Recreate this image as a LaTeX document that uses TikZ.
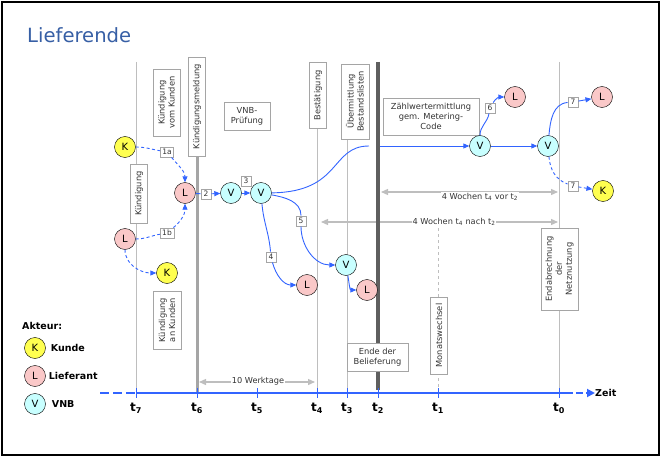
\documentclass[tikz,border=0pt]{standalone}
\usepackage{fontspec}
\setmainfont{DejaVu Sans}
\usepackage{xcolor}
\usepackage{tikz}
\usetikzlibrary{positioning, arrows.meta}
\definecolor{kyellow}{RGB}{255,255,80}
\definecolor{lpink}{RGB}{250,200,200}
\definecolor{vcyan}{RGB}{200,255,255}
\definecolor{flowblue}{RGB}{50,100,255}
\definecolor{titleblue}{RGB}{55,95,165}
\definecolor{linegray}{RGB}{190,190,190}
\definecolor{boxgray}{RGB}{165,165,165}
\definecolor{darkline}{RGB}{95,95,95}

\begin{document}
\begin{tikzpicture}[x=1pt,y=-1pt,>={Triangle[length=6pt,width=5pt]}]
	\tikzstyle{actor}=[circle,draw=black,minimum size=21pt,inner sep=0pt,font=\fontsize{10}{10}\selectfont]
	\tikzstyle{kunde}=[actor,fill=kyellow]
	\tikzstyle{lief}=[actor,fill=lpink]
	\tikzstyle{vnb}=[actor,fill=vcyan]
	\tikzstyle{phase}=[draw=boxgray,fill=white,inner sep=1pt,align=center,text=black!80,font=\fontsize{8.3}{10}\selectfont]
	\tikzstyle{numbox}=[draw=boxgray,fill=white,inner xsep=2pt,inner ysep=1pt,minimum size=10.5pt,text=black!80,font=\fontsize{7.5}{7.5}\selectfont]
	\tikzstyle{flow}=[draw=flowblue,line width=0.9pt]
	\tikzstyle{weak}=[flow,dash pattern=on 3pt off 2.5pt]
	\tikzstyle{thinline}=[draw=linegray,line width=1pt]
	\tikzstyle{dimline}=[draw=linegray,line width=1.3pt,<->,>={Triangle[length=7pt,width=6pt]}]
	\tikzstyle{dimtext}=[fill=white,inner sep=1pt,text=black!80,font=\fontsize{8.2}{8.2}\selectfont]
	\tikzstyle{tlabel}=[inner sep=0pt,font=\fontsize{12}{12}\selectfont\bfseries]
	\tikzstyle{legtext}=[inner sep=0pt,font=\fontsize{9.5}{10}\selectfont\bfseries]
	\useasboundingbox (0,0) rectangle (665,460);
	\draw[line width=1.8pt] (2,2) rectangle (659,455);
	\node[anchor=base west,inner sep=0pt,text=titleblue,font=\fontsize{19.6}{20}\selectfont](title) at (27,43) {Lieferende};

	\coordinate (t7) at (136,393);
	\coordinate (t6) at (197,393);
	\coordinate (t5) at (257,393);
	\coordinate (t4) at (317,393);
	\coordinate (t3) at (347,393);
	\coordinate (t2) at (378,393);
	\coordinate (t1) at (438,393);
	\coordinate (t0) at (559,393);
	\coordinate (t7top) at (136,62);
	\coordinate (t6top) at (197,60);
	\coordinate (t4top) at (317,62);
	\coordinate (t3top) at (347,66);
	\coordinate (t2top) at (378,62);
	\coordinate (t1top) at (438,228);
	\coordinate (t0top) at (559,62);

	\coordinate (d10a) at (199,382);
	\coordinate (d10b) at (315,382);
	\coordinate (dvora) at (381,192);
	\coordinate (dvorb) at (558,192);
	\coordinate (dnacha) at (321,222);
	\coordinate (dnachb) at (558,222);
	\draw[dimline] (d10a) -- (d10b);
	\draw[dimline] (dvora) -- (dvorb);
	\draw[dimline] (dnacha) -- (dnachb);
	\node[dimtext](werk) at (258,381) {10 Werktage};
	\node[dimtext](wvor) at (480,197) {4 Wochen t\textsubscript{4} vor t\textsubscript{2}};
	\node[dimtext](wnach) at (454,222) {4 Wochen t\textsubscript{4} nach t\textsubscript{2}};

	\draw[thinline] (t7top) -- (t7);
	\draw[draw=boxgray,line width=3pt] (t6top) -- (t6);
	\draw[thinline] (t4top) -- (t4);
	\draw[thinline] (t3top) -- (t3);
	\draw[draw=darkline,line width=4pt] (t2top) -- ([yshift=3pt]t2);
	\draw[thinline,dashed] (t1top) -- (t1);
	\draw[thinline] (t0top) -- (t0);

	\coordinate (tlstart) at (100,393);
	\coordinate (tlend) at (595,393);
	\coordinate (tlmid) at (566,393);
	\draw[flow,line width=1.8pt,dash pattern=on 9pt off 4pt] (tlstart) -- (t7);
	\draw[flow,line width=1.8pt] (t7) -- (tlmid);
	\draw[flow,line width=1.8pt,dash pattern=on 7pt off 3pt,->,>={Triangle[length=8pt,width=8pt]}] (tlmid) -- (tlend);
	\node[legtext,anchor=west](zeit) at (tlend) {Zeit};
	\draw[flow,line width=1pt] ([yshift=5pt]t7) -- ([yshift=-5pt]t7);
	\draw[flow,line width=1pt] ([yshift=5pt]t6) -- ([yshift=-5pt]t6);
	\draw[flow,line width=1pt] ([yshift=5pt]t5) -- ([yshift=-5pt]t5);
	\draw[flow,line width=1pt] ([yshift=5pt]t4) -- ([yshift=-5pt]t4);
	\draw[flow,line width=1pt] ([yshift=5pt]t3) -- ([yshift=-5pt]t3);
	\draw[flow,line width=1pt] ([yshift=5pt]t2) -- ([yshift=-5pt]t2);
	\draw[flow,line width=1pt] ([yshift=5pt]t1) -- ([yshift=-5pt]t1);
	\draw[flow,line width=1pt] ([yshift=5pt]t0) -- ([yshift=-5pt]t0);
	\node[tlabel,below=10pt of t7](lt7) {t\textsubscript{7}};
	\node[tlabel,below=10pt of t6](lt6) {t\textsubscript{6}};
	\node[tlabel,below=10pt of t5](lt5) {t\textsubscript{5}};
	\node[tlabel,below=10pt of t4](lt4) {t\textsubscript{4}};
	\node[tlabel,below=10pt of t3](lt3) {t\textsubscript{3}};
	\node[tlabel,below=10pt of t2](lt2) {t\textsubscript{2}};
	\node[tlabel,below=10pt of t1](lt1) {t\textsubscript{1}};
	\node[tlabel,below=10pt of t0](lt0) {t\textsubscript{0}};

	\node[phase,rotate=90,minimum width=67pt,minimum height=27pt](kvk) at (166.5,102.5) {Kündigung\\vom Kunden};
	\node[phase,rotate=90,minimum width=99pt,minimum height=17pt](kmeld) at (197,106.5) {Kündigungsmeldung};
	\node[phase,minimum width=46pt,minimum height=28pt](vnbp) at (247,116) {VNB-\\Prüfung};
	\node[phase,rotate=90,minimum width=66pt,minimum height=17pt](best) at (318,95.5) {Bestätigung};
	\node[phase,rotate=90,minimum width=75pt,minimum height=28pt](uebm) at (355,101.5) {Übermittlung\\Bestandslisten};
	\node[phase,minimum width=96pt,minimum height=37pt](zwe) at (431,116.5) {Zählwertermittlung\\gem. Metering-\\Code};
	\node[phase,rotate=90,minimum width=59pt,minimum height=17pt](kuend) at (139,193.5) {Kündigung};
	\node[phase,rotate=90,minimum width=58pt,minimum height=28pt](kak) at (167,320) {Kündigung\\an Kunden};
	\node[phase,minimum width=61pt,minimum height=28pt](ende) at (377.5,357) {Ende der\\Belieferung};
	\node[phase,rotate=90,minimum width=77pt,minimum height=17pt](monat) at (439,335.5) {Monatswechsel};
	\node[phase,rotate=90,minimum width=82pt,minimum height=37pt](endab) at (559.5,269) {Endabrechnung\\der\\Netznutzung};

	\node[kunde](k1) at (125,147) {K};
	\node[lief](l1) at (125,239) {L};
	\node[lief](l2) at (185,193) {L};
	\node[kunde](k2) at (167,273) {K};
	\node[vnb](v1) at (231,193) {V};
	\node[vnb](v2) at (261,193) {V};
	\node[lief](l3) at (307,285) {L};
	\node[vnb](v3) at (346,265) {V};
	\node[lief](l4) at (367,290) {L};
	\node[vnb](v4) at (480,146) {V};
	\node[lief](l5) at (515,97) {L};
	\node[vnb](v5) at (548,146) {V};
	\node[lief](l6) at (602,97) {L};
	\node[kunde](k3) at (603,191) {K};

	\node[numbox](n1a) at (167,152) {1a};
	\node[numbox](n1b) at (167,233) {1b};
	\node[numbox](n2) at (206,194) {2};
	\node[numbox](n3) at (246,181) {3};
	\node[numbox](n4) at (271,257) {4};
	\node[numbox](n5) at (301,221) {5};
	\node[numbox](n6) at (490,108) {6};
	\node[numbox](n7a) at (573,102) {7};
	\node[numbox](n7b) at (573,186) {7};
	\coordinate (xfer) at (369,146);
	\coordinate (xfer2) at (380,146);

	\draw[weak] (k1) to[out=0,in=170] (n1a);
	\draw[weak,->] (n1a) to[out=-50,in=90] (l2);
	\draw[weak] (l1) to[out=0,in=190] (n1b);
	\draw[weak,->] (n1b) to[out=40,in=-90] (l2);
	\draw[weak,->] (l1) to[out=-90,in=180] (k2);
	\draw[flow] (l2) -- (n2);
	\draw[flow,->] (n2) -- (v1);
	\draw[flow,->] (v1) -- (v2);
	\draw[flow] (v2) to[out=-85,in=95] (n4);
	\draw[flow,->] (n4) to[out=-75,in=180] (l3);
	\draw[flow] (v2) to[out=-10,in=90] (n5);
	\draw[flow,->] (n5) to[out=-90,in=180] (v3);
	\draw[flow,->] (v3) to[out=-80,in=180] (l4);
	\draw[flow] (v2) .. controls (342,192) and (330,146) .. (xfer);
	\draw[flow,->] (xfer2) -- (v4);
	\draw[flow,->] (v4) -- (v5);
	\draw[flow] (v4) to[out=90,in=-100] (n6);
	\draw[flow,->] (n6) to[out=60,in=180] (l5);
	\draw[flow] (v5) to[out=85,in=185] (n7a);
	\draw[flow,->] (n7a) -- (l6);
	\draw[weak] (v5) to[out=-85,in=160] (n7b);
	\draw[weak,->] (n7b) -- (k3);

	\node[legtext,anchor=west](akteur) at (22,326) {Akteur:};
	\node[kunde](legk) at (35,348) {K};
	\node[lief](legl) at (35,376) {L};
	\node[vnb](legv) at (35,404) {V};
	\node[legtext,right=5pt of legk](legkt) {Kunde};
	\node[legtext,right=3pt of legl](leglt) {Lieferant};
	\node[legtext,right=6pt of legv](legvt) {VNB};
\end{tikzpicture}
\end{document}
